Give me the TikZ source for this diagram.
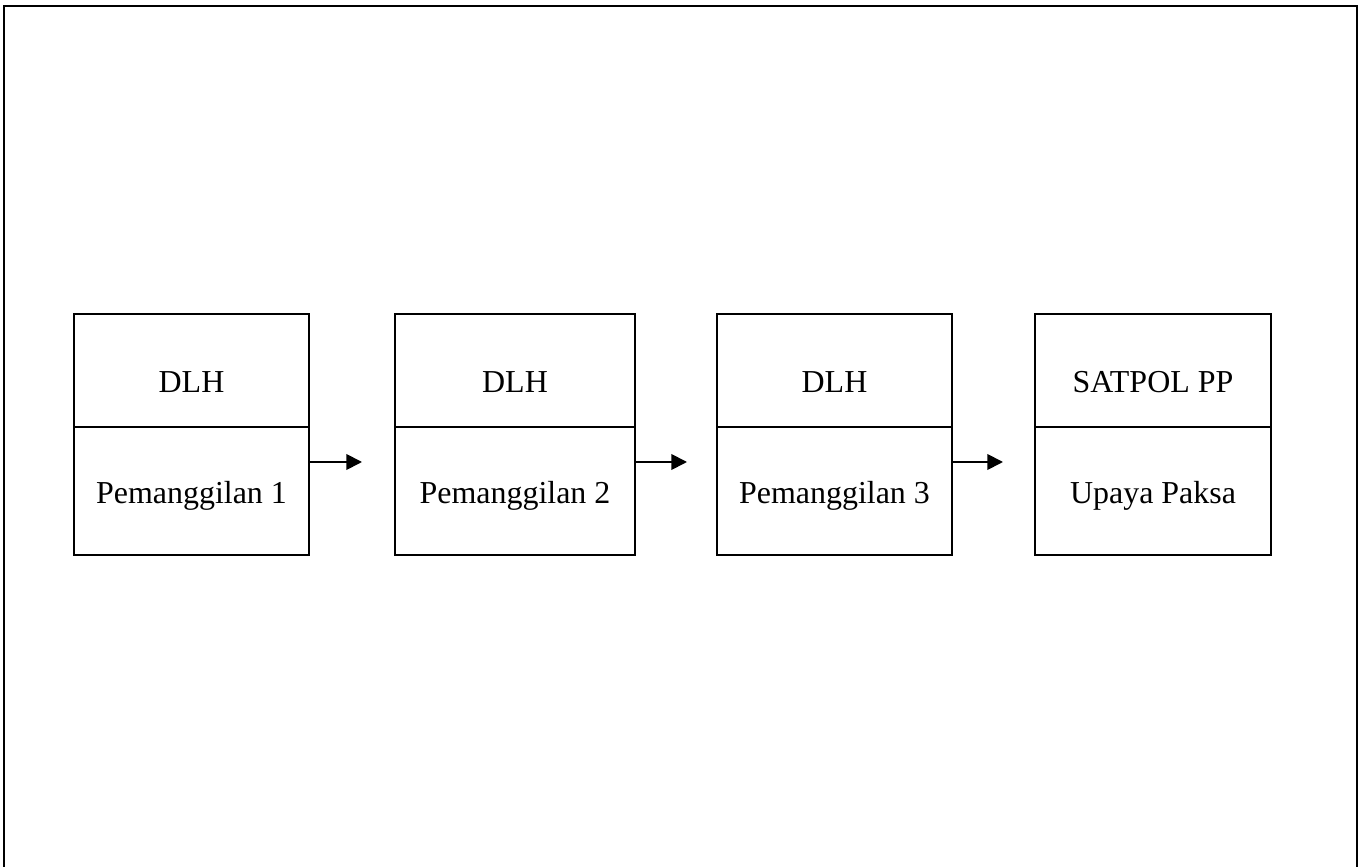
\documentclass[tikz,border=0pt]{standalone}
\usepackage{fontspec}
\setmainfont{Liberation Serif}
\usetikzlibrary{positioning,arrows.meta}

\begin{document}
\begin{tikzpicture}[x=0.385pt, y=-0.385pt,
    cell/.style={draw, line width=0.75pt, inner sep=0pt, outer sep=0pt},
    txt/.style={anchor=base, font=\fontsize{12.3}{14}\selectfont},
    arr/.style={line width=0.7pt, -{Triangle[length=6pt, width=6pt]}}]
    \useasboundingbox (0,0) rectangle (1360,867);
    \draw[line width=0.9pt] (4,880) -- (4,6) -- (1357,6) -- (1357,880);
    \foreach \i/\x/\w/\head/\task in {1/191.5/90.5/DLH/Pemanggilan 1, 2/515/92.4/DLH/Pemanggilan 2,
        3/834.5/90.5/DLH/Pemanggilan 3, 4/1153/90.9/SATPOL PP/Upaya Paksa} {
        \node[cell, minimum width=\w pt, minimum height=43.5pt] (h\i) at (\x,370.5) {};
        \node[cell, minimum width=\w pt, minimum height=49.3pt, below=0pt of h\i] (b\i) {};
        \node[txt] (t\i) at (\x,393) {\head};
        \node[txt] (p\i) at (\x,504) {\task};
    }
    \foreach \i/\ex in {1/362, 2/687, 3/1003} {
        \coordinate (e\i) at (\ex,462);
        \draw[arr] (b\i.east |- e\i) -- (e\i);
    }
\end{tikzpicture}
\end{document}
